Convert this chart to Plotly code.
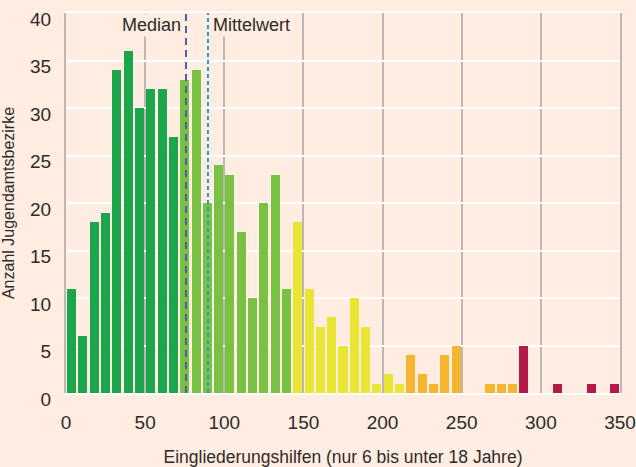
import plotly.graph_objects as go

BIN_WIDTH = 350 / 49
counts = [11, 6, 18, 19, 34, 36, 30, 32, 32, 27,
          33, 34, 20, 24, 23, 17, 10, 20, 23, 11,
          18, 11, 7, 8, 5, 10, 7, 1, 2, 1,
          4, 2, 1, 4, 5, 0, 0, 1, 1, 1,
          5, 0, 0, 1, 0, 0, 1, 0, 1]
group_colors = ["#1ba64b", "#79c143", "#e9e535", "#f6b52e", "#b31a48"]
median_x = 75.8
mean_x = 89.7
x_ticks = [0, 50, 100, 150, 200, 250, 300, 350]
y_ticks = [0, 5, 10, 15, 20, 25, 30, 35, 40]

bg = "#feede0"
txt = "#2e2a2a"
vgrid = "#bdb8b6"
font_family = "Liberation Sans, Arial, Helvetica, sans-serif"

centers = [(i + 0.5) * BIN_WIDTH for i in range(len(counts))]
colors = [group_colors[i // 10] for i in range(len(counts))]

fig = go.Figure()
fig.add_trace(go.Bar(
    x=centers, y=counts, width=BIN_WIDTH * 0.8,
    marker=dict(color=colors, line=dict(width=0)),
    hoverinfo="x+y",
))

fig.add_shape(type="line", x0=median_x, x1=median_x, y0=0, y1=40,
              xref="x", yref="y", layer="above",
              line=dict(color="#4e5daa", width=2, dash="7px,5px"))
fig.add_shape(type="line", x0=mean_x, x1=mean_x, y0=0, y1=40,
              xref="x", yref="y", layer="above",
              line=dict(color="#1a9fd8", width=2, dash="4px,3px"))

fig.add_annotation(x=median_x, y=40, xref="x", yref="y", text="Median",
                   xanchor="right", yanchor="top", showarrow=False, xshift=-3,
                   font=dict(family=font_family, size=18, color=txt),
                   bgcolor=bg, borderpad=1)
fig.add_annotation(x=mean_x, y=40, xref="x", yref="y", text="Mittelwert",
                   xanchor="left", yanchor="top", showarrow=False, xshift=3,
                   font=dict(family=font_family, size=18, color=txt),
                   bgcolor=bg, borderpad=1)

fig.update_layout(
    width=636, height=467,
    margin=dict(l=66, r=16, t=13, b=74, autoexpand=False),
    paper_bgcolor=bg, plot_bgcolor=bg,
    font=dict(family=font_family, color=txt),
    showlegend=False,
    bargap=0,
)
fig.update_xaxes(
    range=[0, 350], tickvals=x_ticks, ticktext=[str(v) for v in x_ticks],
    showgrid=True, gridcolor=vgrid, gridwidth=2,
    zeroline=False, showline=True, mirror=True, linecolor="#ffffff", linewidth=2,
    ticks="", automargin=False,
    ticklabeloverflow="allow", ticklabelstandoff=11,
    tickfont=dict(size=19, color=txt),
    title=dict(text="Eingliederungshilfen (nur 6 bis unter 18 Jahre)",
               font=dict(size=17.5, color=txt), standoff=22),
)
fig.update_yaxes(
    range=[0, 40], tickvals=y_ticks, ticktext=[str(v) for v in y_ticks],
    showgrid=True, gridcolor="#ffffff", gridwidth=2,
    zeroline=False, showline=True, mirror=True, linecolor=vgrid, linewidth=2,
    ticks="", automargin=False,
    ticklabelshift=6, ticklabelstandoff=9,
    ticklabeloverflow="allow",
    tickfont=dict(size=19, color=txt),
    title=dict(text="Anzahl Jugendamtsbezirke",
               font=dict(size=16, color=txt), standoff=12),
)

fig.write_html(
    "out.html",
    config={"displayModeBar": False},
    post_script="document.body.style.margin='0';"
                "document.body.style.background='%s';" % bg,
)
